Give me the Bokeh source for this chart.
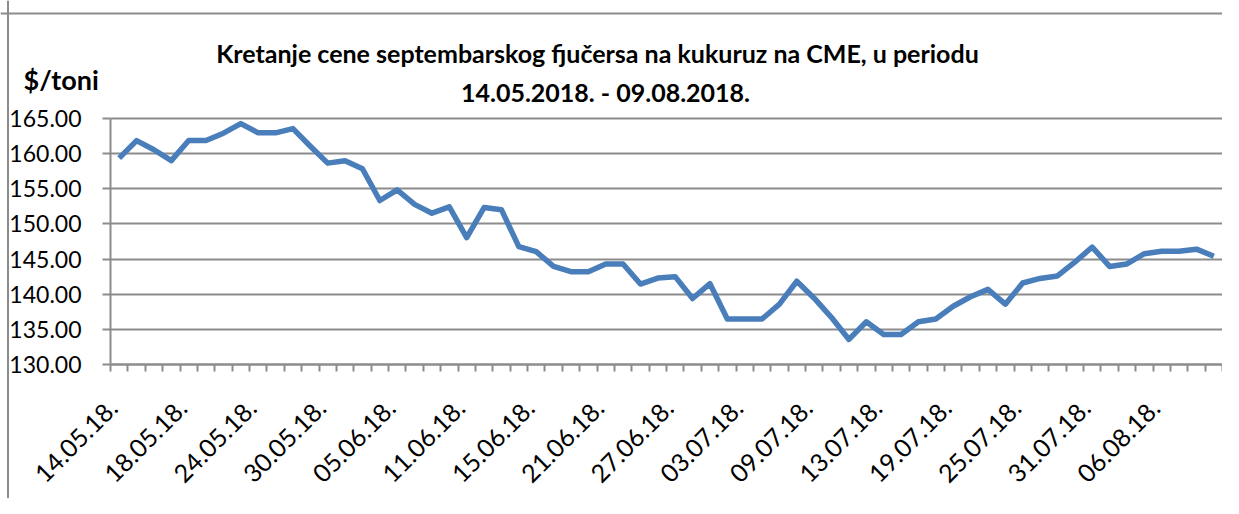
import math
from bokeh.plotting import figure
from bokeh.models import Range1d, FixedTicker, PrintfTickFormatter, Label, Span
from bokeh.embed import file_html
from bokeh.resources import INLINE

dates = [
    "14.05.18.", "15.05.18.", "16.05.18.", "17.05.18.", "18.05.18.",
    "21.05.18.", "22.05.18.", "23.05.18.", "24.05.18.", "25.05.18.",
    "28.05.18.", "29.05.18.", "30.05.18.", "31.05.18.", "01.06.18.",
    "04.06.18.", "05.06.18.", "06.06.18.", "07.06.18.", "08.06.18.",
    "11.06.18.", "12.06.18.", "13.06.18.", "14.06.18.", "15.06.18.",
    "18.06.18.", "19.06.18.", "20.06.18.", "21.06.18.", "22.06.18.",
    "25.06.18.", "26.06.18.", "27.06.18.", "28.06.18.", "29.06.18.",
    "02.07.18.", "03.07.18.", "04.07.18.", "05.07.18.", "06.07.18.",
    "09.07.18.", "10.07.18.", "11.07.18.", "12.07.18.", "13.07.18.",
    "16.07.18.", "17.07.18.", "18.07.18.", "19.07.18.", "20.07.18.",
    "23.07.18.", "24.07.18.", "25.07.18.", "26.07.18.", "27.07.18.",
    "30.07.18.", "31.07.18.", "01.08.18.", "02.08.18.", "03.08.18.",
    "06.08.18.", "07.08.18.", "08.08.18.", "09.08.18.",
]

prices = [
    159.3, 161.8, 160.5, 158.95, 161.8, 161.8, 162.85, 164.2, 162.9, 162.9,
    163.5, 161.0, 158.6, 158.95, 157.8, 153.3, 154.8, 152.75, 151.5, 152.4,
    148.05, 152.3, 152.0, 146.75, 146.05, 143.95, 143.2, 143.2, 144.3, 144.3,
    141.45, 142.3, 142.5, 139.4, 141.5, 136.5, 136.5, 136.5, 138.6, 141.85,
    139.45, 136.7, 133.6, 136.1, 134.3, 134.3, 136.1, 136.5, 138.3, 139.65,
    140.7, 138.6, 141.6, 142.25, 142.6, 144.55, 146.7, 143.95, 144.3, 145.75,
    146.1, 146.1, 146.4, 145.4,
]

y_ticks = [130, 135, 140, 145, 150, 155, 160, 165]
label_step = 4

title_line1 = "Kretanje cene septembarskog fjučersa na  kukuruz na CME, u periodu"
title_line2 = "14.05.2018. - 09.08.2018."
y_unit = "$/toni"

n = len(prices)
xs = list(range(n))

GRAY = "#8c8c8c"
FONT = "Lato"

# page geometry (pixels): canvas origin and plotting area of the chart
W, H = 1222, 498
OX, OY = 0, 0
AREA_L, AREA_R = 110, 1222
AREA_T, AREA_B = 117.5, 364.3

y0, y1 = y_ticks[0], y_ticks[-1]
PX = (AREA_R - AREA_L) / n
PY = (AREA_B - AREA_T) / (y1 - y0)


def xd(px):
    return -0.5 + (px - AREA_L) / PX


def yd(py):
    return y0 + (AREA_B - py) / PY


p = figure(
    width=W, height=H,
    x_range=Range1d(xd(OX), xd(OX + W)), y_range=Range1d(yd(OY + H), yd(OY)),
    output_backend="svg", toolbar_location=None,
    min_border=0, min_border_left=0, min_border_right=0,
    min_border_top=0, min_border_bottom=0,
)
p.outline_line_color = None
p.background_fill_color = "white"
p.border_fill_color = "white"

# outer chart border (top and left)
p.add_layout(Span(location=yd(13), dimension="width", line_color=GRAY, line_width=2))
p.add_layout(Span(location=xd(7.5), dimension="height", line_color=GRAY, line_width=2))

p.line(xs, prices, line_color="#4a7ebb", line_width=5.5, line_join="round")

# y axis
yax = p.yaxis[0]
yax.fixed_location = -0.5
yax.bounds = (y0, y1)
yax.ticker = FixedTicker(ticks=y_ticks, minor_ticks=[])
yax.formatter = PrintfTickFormatter(format="%.2f")
yax.axis_line_color = GRAY
yax.axis_line_width = 2
yax.major_tick_line_color = GRAY
yax.major_tick_line_width = 2
yax.major_tick_out = 8
yax.major_tick_in = 0
yax.minor_tick_line_color = None
yax.major_label_standoff = 21
yax.major_label_text_font = FONT
yax.major_label_text_font_size = "23px"
yax.major_label_text_color = "black"

# x axis
xax = p.xaxis[0]
xax.fixed_location = y0
xax.bounds = (-0.5, n - 0.5)
label_idx = list(range(0, n, label_step))
label_pos = [i - 0.35 for i in label_idx]
xax.ticker = FixedTicker(ticks=label_pos, minor_ticks=[i - 0.5 for i in range(n + 1)])
xax.major_label_overrides = {pos: dates[i] for pos, i in zip(label_pos, label_idx)}
xax.major_label_orientation = math.pi / 4
xax.axis_line_color = GRAY
xax.axis_line_width = 2
xax.major_tick_line_color = None
xax.major_tick_out = 0
xax.major_tick_in = 0
xax.minor_tick_line_color = GRAY
xax.minor_tick_line_width = 2
xax.minor_tick_out = 7
xax.minor_tick_in = 0
xax.major_label_standoff = 32
xax.major_label_text_font = FONT
xax.major_label_text_font_size = "25px"
xax.major_label_text_color = "black"

p.xgrid.grid_line_color = None
p.ygrid.ticker = FixedTicker(ticks=y_ticks)
p.ygrid.cross_bounds = (-0.5, n - 0.5)
p.ygrid.grid_line_color = GRAY
p.ygrid.grid_line_width = 2

# titles and unit label (anchored at the vertical middle of the text)
p.add_layout(Label(x=xd(600), y=yd(52), text=title_line1, text_align="center",
                   text_baseline="middle", text_font=FONT,
                   text_font_style="bold", text_font_size="25px", text_color="black"))
p.add_layout(Label(x=xd(605), y=yd(91), text=title_line2, text_align="center",
                   text_baseline="middle", text_font=FONT,
                   text_font_style="bold", text_font_size="25px", text_color="black"))
p.add_layout(Label(x=xd(23), y=yd(79), text=y_unit, text_align="left",
                   text_baseline="middle", text_font=FONT,
                   text_font_style="bold", text_font_size="27px", text_color="black"))

open("out.html", "w").write(file_html(p, INLINE))
